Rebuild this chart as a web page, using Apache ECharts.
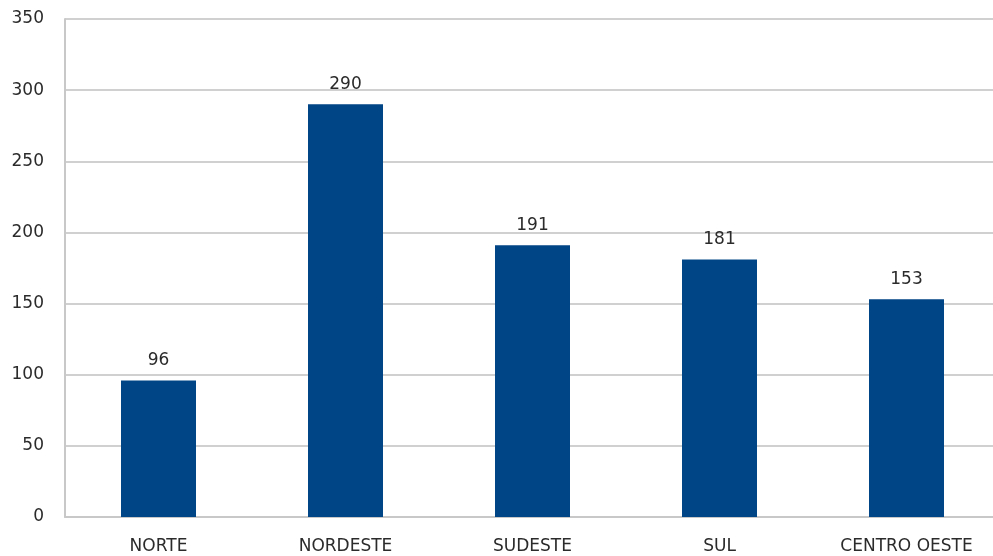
<!DOCTYPE html>
<html><head><meta charset="utf-8">
<script src="https://cdn.jsdelivr.net/npm/echarts@6/dist/echarts.min.js"></script>
<style>html,body{margin:0;padding:0;background:#fff;overflow:hidden}#c{width:1000px;height:556px}</style>
</head><body><div id="c"></div>
<script>
const categories = ['NORTE', 'NORDESTE', 'SUDESTE', 'SUL', 'CENTRO OESTE'];
const values = [96, 290, 191, 181, 153];
const yTicks = { min: 0, max: 350, interval: 50 };

const font = 'DejaVu Sans';
const chart = echarts.init(document.getElementById('c'));
chart.setOption({
  animation: false,
  grid: { left: 65, right: 0, top: 19, bottom: 39, containLabel: false },
  xAxis: {
    type: 'category', data: categories,
    axisLine: { lineStyle: { color: '#c8c8c8', width: 2 } },
    axisTick: { show: false },
    axisLabel: { color: '#2b2b2b', fontFamily: font, fontSize: 17, margin: 21 }
  },
  yAxis: {
    type: 'value', min: yTicks.min, max: yTicks.max, interval: yTicks.interval,
    axisLine: { show: true, lineStyle: { color: '#c8c8c8', width: 2 } },
    axisTick: { show: false },
    splitLine: { lineStyle: { color: '#d0d0d0', width: 2 } },
    axisLabel: { color: '#2b2b2b', fontFamily: font, fontSize: 17, margin: 21, verticalAlign: 'middle', lineHeight: 17, padding: [6, 0, 0, 0] }
  },
  series: [{
    type: 'bar', data: values, barWidth: 75,
    itemStyle: { color: '#004586' },
    label: { show: true, position: 'top', distance: 11, color: '#2b2b2b', fontFamily: font, fontSize: 17 }
  }]
});
</script></body></html>
